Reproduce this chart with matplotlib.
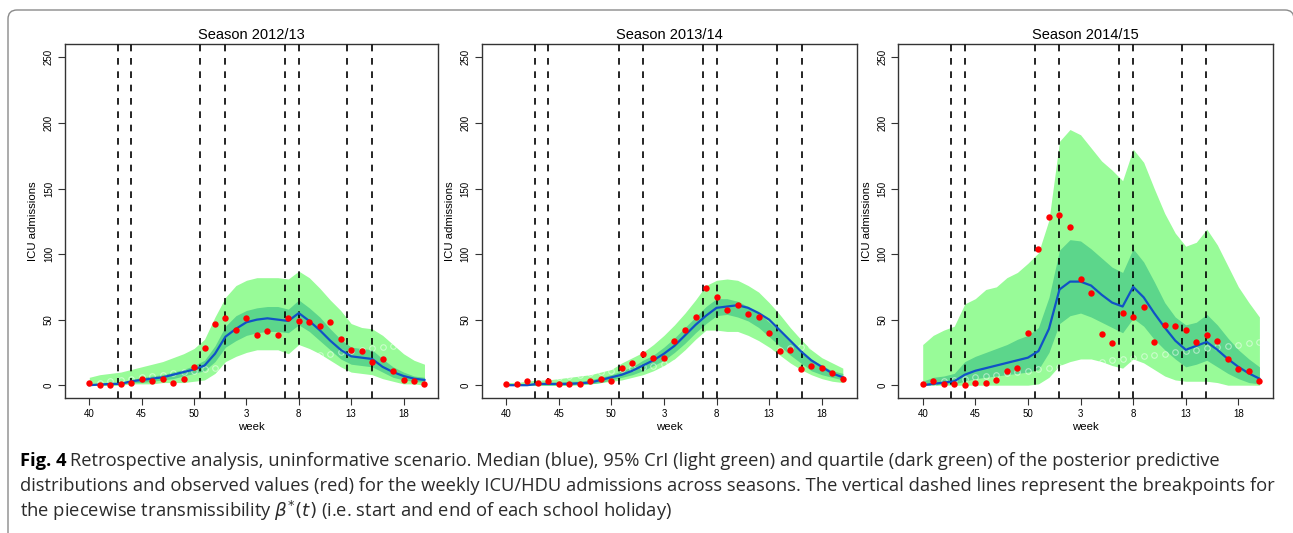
import matplotlib
matplotlib.use('Agg')
import matplotlib.pyplot as plt
from matplotlib.patches import FancyBboxPatch

# weeks 40..52 then 1..20 of the next year, plotted on a running index
week_labels = ['40', '45', '50', '3', '8', '13', '18']
week_tick_idx = [0, 5, 10, 15, 20, 25, 30]
n_weeks = 33

titles = ['Season 2012/13', 'Season 2013/14', 'Season 2014/15']

# ---- season 2012/13
obs_1 = [2, 0, 0, 1, 2, 5, 3, 5, 2, 5, 14, 28, 47, 51, 42, 51, 38, 41, 38, 51,
         49, 48, 45, 48, 35, 27, 26, 18, 20, 11, 4, 3, 1]
med_1 = [0, 0.5, 1, 1, 3, 4, 5, 6, 8, 10, 12, 15, 24, 37, 43, 48, 50, 51, 50, 49,
         55, 49, 42, 34, 27, 22, 21, 20, 14, 10, 7, 5, 4]
hi95_1 = [6, 8, 9, 10, 12, 14, 16, 18, 21, 24, 28, 35, 52, 67, 76, 80, 82, 82, 82, 81,
          87, 82, 74, 65, 57, 47, 44, 43, 38, 31, 24, 19, 16]
lo95_1 = [0, 0, 0, 0, 1, 1, 1, 2, 2, 2, 3, 4, 9, 18, 22, 25, 27, 27, 27, 24,
          31, 28, 24, 19, 14, 10, 9, 8, 5, 3, 1, 1, 0]
q75_1 = [1, 1, 1.5, 2, 4, 6, 7, 8, 10, 12, 15, 19, 30, 45, 53, 57, 59, 60, 60, 58,
         65, 59, 52, 43, 35, 29, 28, 27, 20, 14, 10, 7, 6]
q25_1 = [0, 0, 0, 0.5, 2, 2, 3, 4, 5, 7, 9, 11, 18, 29, 34, 38, 40, 41, 41, 40,
         46, 41, 34, 27, 20, 16, 15, 14, 10, 6, 4, 3, 2]
breaks_1 = [2.7, 4.0, 10.55, 13.0, 18.7, 20.0, 24.6, 27.0]

# ---- season 2013/14
obs_2 = [1, 1, 3, 2, 3, 1, 1, 1, 3, 5, 3, 13, 17, 24, 21, 21, 34, 42, 52, 74,
         67, 57, 61, 54, 52, 40, 26, 27, 12, 15, 13, 9, 5]
med_2 = [0, 0, 0, 1, 1, 1, 1, 1.5, 2, 4, 6, 8, 11, 15, 19, 24, 30, 38, 46, 53,
         59, 60, 61, 59, 55, 50, 42, 34, 26, 19, 14, 9, 6]
hi95_2 = [2, 2, 3, 4, 4, 5, 6, 7, 8, 10, 12, 17, 21, 25, 31, 38, 46, 55, 65, 76,
          80, 81, 80, 76, 71, 63, 54, 44, 35, 27, 21, 17, 13]
lo95_2 = [0, 0, 0, 0, 0, 0, 0, 0, 1, 2, 3, 4, 6, 8, 11, 15, 20, 27, 35, 42,
          42, 41, 41, 38, 34, 29, 23, 17, 12, 8, 5, 3, 2]
q75_2 = [1, 1, 1, 2, 2, 2, 3, 3, 4, 6, 8, 11, 14, 19, 23, 29, 36, 44, 52, 60,
         66, 66, 64, 60, 55, 48, 41, 33, 26, 20, 15, 11, 9]
q25_2 = [0, 0, 0, 0, 0, 0, 0, 1, 1, 2, 4, 6, 8, 11, 15, 19, 25, 32, 40, 47,
         53, 54, 52, 49, 44, 37, 30, 23, 17, 11, 8, 6, 4]
breaks_2 = [2.72, 4.0, 10.7, 13.0, 18.7, 20.0, 25.7, 28.1]

# ---- season 2014/15
obs_3 = [1, 3, 1, 1, 0, 2, 2, 4, 11, 13, 40, 104, 128, 130, 121, 81, 70, 39, 32, 55,
         52, 60, 33, 46, 45, 42, 33, 38, 34, 20, 12, 11, 3]
med_3 = [0, 1, 2, 3, 8, 11, 13, 15, 17, 19, 21, 26, 43, 73, 79, 79, 76, 69, 63, 60,
         75, 67, 55, 44, 34, 27, 30, 33, 27, 20, 14, 9, 5]
hi95_3 = [31, 38, 42, 45, 62, 66, 73, 75, 82, 86, 93, 101, 126, 186, 195, 191, 181, 171, 164, 156,
          180, 170, 150, 131, 116, 106, 109, 119, 107, 91, 75, 63, 52]
lo95_3 = [0, 0, 0, 0, 0, 0, 0, 0, 0, 0, 0, 1, 6, 15, 18, 20, 20, 18, 15, 13,
          20, 17, 12, 7, 4, 3, 3, 3, 2, 0, 0, 0, 0]
q75_3 = [3, 6, 7, 9, 18, 22, 25, 28, 31, 35, 38, 44, 67, 103, 111, 110, 104, 97, 90, 86,
         104, 94, 79, 63, 52, 46, 48, 54, 46, 36, 27, 20, 14]
q25_3 = [0, 0, 1, 1, 3, 5, 6, 7, 8, 9, 10, 12, 25, 47, 53, 55, 52, 48, 44, 40,
         51, 45, 35, 27, 20, 14, 16, 19, 14, 9, 5, 2, 1]
breaks_3 = [2.69, 4.0, 10.7, 12.97, 18.7, 19.97, 24.68, 26.96]

# faint open circles that show through the bands
ghost = [1, 2, 3, 4, 5, 6, 7, 8, 9, 10, 11, 12, 13, 14, 15, 16, 17, 18, 19, 20,
         21, 22, 23, 24, 25, 26, 27, 28, 29, 30, 31, 32, 33]

seasons = [
    (obs_1, med_1, lo95_1, hi95_1, q25_1, q75_1, breaks_1),
    (obs_2, med_2, lo95_2, hi95_2, q25_2, q75_2, breaks_2),
    (obs_3, med_3, lo95_3, hi95_3, q25_3, q75_3, breaks_3),
]

light_green = '#98fb98'
dark_green = '#5cd68b'
blue = '#1052c6'
axis_col = '#333333'

fig = plt.figure(figsize=(12.93, 5.33), dpi=100)
plt.rcParams['font.family'] = ['Liberation Sans', 'DejaVu Sans']

lefts = [65 / 1293, 481.7 / 1293, 898.3 / 1293]
widths = [373.3 / 1293, 375 / 1293, 375 / 1293]
bottom = 1 - 398.3 / 533
height = (398.3 - 44.3) / 533


def draw_season(ax, data, title):
    obs, med, lo95, hi95, q25, q75, breaks = data
    x = list(range(n_weeks))

    ax.fill_between(x, lo95, hi95, color=light_green, lw=0, zorder=1)
    ax.fill_between(x, q25, q75, color=dark_green, lw=0, zorder=2)
    ax.plot(x, ghost, 'o', mfc='none', mec='white', ms=4, mew=0.8, alpha=0.5, zorder=3)
    for b in breaks:
        ax.axvline(b, color='black', ls=(0, (4, 4)), lw=1.2, zorder=4)
    ax.plot(x, med, color=blue, lw=1.6, zorder=5)
    ax.plot(x, obs, 'o', color='red', ms=4.6, mew=0, zorder=6)

    ax.set_xlim(-2.32, 33.32)
    ax.set_ylim(-10, 260)
    ax.set_xticks(week_tick_idx)
    ax.set_xticklabels(week_labels)
    ax.set_yticks([0, 50, 100, 150, 200, 250])
    ax.set_yticklabels(['0', '50', '100', '150', '200', '250'], rotation=90, va='center')
    ax.tick_params(labelsize=7, length=5, width=0.8, color=axis_col, pad=3)
    for sp in ax.spines.values():
        sp.set_color(axis_col)
        sp.set_linewidth(1.0)
    ax.set_title(title, fontsize=10.5, pad=4)
    ax.set_xlabel('week', fontsize=8.2, labelpad=2)
    ax.set_ylabel('ICU admissions', fontsize=8.2, labelpad=4)


for i in range(3):
    ax = fig.add_axes([lefts[i], bottom, widths[i], height])
    draw_season(ax, seasons[i], titles[i])

# caption
cap_font = ['Open Sans', 'DejaVu Sans']
cap_size = 13.2
cap_col = '#2b2b2b'
fig_lbl = fig.text(20 / 1293, 1 - 461 / 533, 'Fig. 4', fontsize=cap_size, fontweight='bold',
                   family=cap_font, va='center', color='black')
renderer = fig.canvas.get_renderer()
lbl_right = fig_lbl.get_window_extent(renderer).x1
fig.text((lbl_right + 4) / 1293, 1 - 461 / 533,
         'Retrospective analysis, uninformative scenario. Median (blue), 95% CrI (light green) '
         'and quartile (dark green) of the posterior predictive',
         fontsize=cap_size, family=cap_font, va='center', color=cap_col)
fig.text(20 / 1293, 1 - 486 / 533,
         'distributions and observed values (red) for the weekly ICU/HDU admissions across seasons. '
         'The vertical dashed lines represent the breakpoints for',
         fontsize=cap_size, family=cap_font, va='center', color=cap_col)
fig.text(20 / 1293, 1 - 511 / 533,
         r'the piecewise transmissibility $\beta^{*}(t)$ (i.e. start and end of each school holiday)',
         fontsize=cap_size, family=cap_font, va='center', color=cap_col)

# rounded frame around the figure (only top and left edges fall inside the image)
frame = FancyBboxPatch((8, -30), 1286, 533 - 10 + 30,
                       boxstyle='round,pad=0,rounding_size=9',
                       transform=None, fill=False, edgecolor='#8a8a8a', lw=1.0)
fig.add_artist(frame)

fig.savefig('out.png', dpi=100)
